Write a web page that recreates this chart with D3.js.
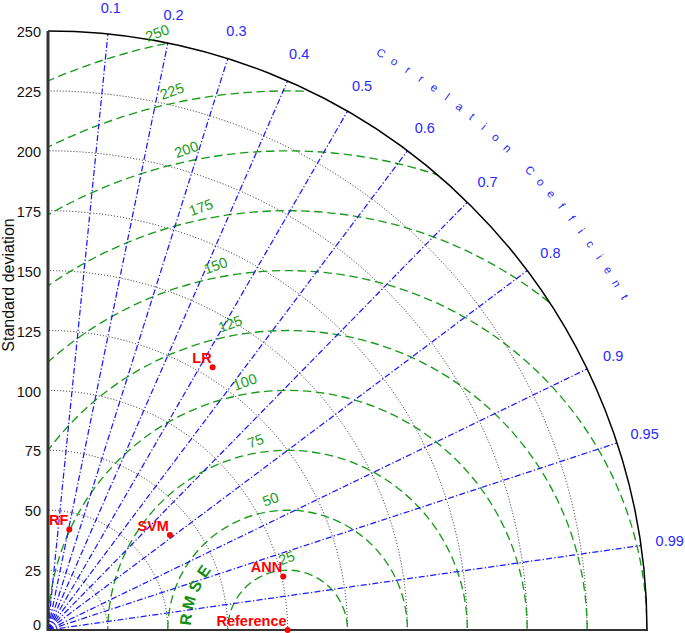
<!DOCTYPE html>
<html>
<head>
<meta charset="utf-8">
<script src="https://cdn.jsdelivr.net/npm/d3@7"></script>
<style>
  body { margin: 0; background: #fff; }
  text { font-family: "Liberation Sans", Arial, sans-serif; }
</style>
</head>
<body>
<div id="viz"></div>
<script>
// data
var stdTicks = [0, 25, 50, 75, 100, 125, 150, 175, 200, 225, 250];
var corrTicks = [0.1, 0.2, 0.3, 0.4, 0.5, 0.6, 0.7, 0.8, 0.9, 0.95, 0.99];
var rmsTicks = [25, 50, 75, 100, 125, 150, 175, 200, 225, 250];
var refStd = 100;
var models = ['Reference', 'ANN', 'SVM', 'RF', 'LR'];
var modelStd = [100, 100.7, 64.5, 42.9, 129.4];
var modelCorr = [1, 0.975, 0.789, 0.207, 0.531];

var W = 685, H = 633;
var ox = 48, oy = 630;
var maxStd = 250;

var svg = d3.select('#viz').append('svg')
  .attr('width', W)
  .attr('height', H);

var r = d3.scaleLinear().domain([0, maxStd]).range([0, 599]);
var y = d3.scaleLinear().domain([0, maxStd]).range([oy, oy - r(maxStd)]);
var R = r(maxStd);

var g = svg.append('g').attr('transform', `translate(${ox},${oy})`);

// clip to the quarter disc
g.append('clipPath').attr('id', 'quarter')
  .append('path')
  .attr('d', `M0,0L${R},0A${R},${R} 0 0 0 0,${-R}Z`);

var pol = (s, ang) => [r(s) * Math.cos(ang), -r(s) * Math.sin(ang)];

// std dev dotted arcs
g.selectAll('.stdarc').data(stdTicks.filter(d => d > 0 && d < maxStd)).join('path')
  .attr('class', 'stdarc')
  .attr('d', d => { var p = d3.path(); p.moveTo(r(d), 0); p.arc(0, 0, r(d), 0, -Math.PI / 2, true); return p.toString(); })
  .style('fill', 'none')
  .style('stroke', '#222')
  .style('stroke-width', 1)
  .style('stroke-dasharray', '1,2');

// RMS circles
var gr = g.append('g').attr('clip-path', 'url(#quarter)');
gr.selectAll('circle').data(rmsTicks).join('circle')
  .attr('cx', r(refStd))
  .attr('cy', 0)
  .attr('r', d => r(d))
  .style('fill', 'none')
  .style('stroke', '#1a9a1a')
  .style('stroke-width', 1.35)
  .style('stroke-dasharray', '8.5,4.5');

// correlation lines
g.selectAll('.corr').data(corrTicks).join('line')
  .attr('class', 'corr')
  .attr('x1', 0).attr('y1', 0)
  .attr('x2', d => pol(maxStd, Math.acos(d))[0])
  .attr('y2', d => pol(maxStd, Math.acos(d))[1])
  .style('stroke', '#1a1aff')
  .style('stroke-width', 1.25)
  .style('stroke-dasharray', '6,2.2,1.3,2.2');

// outer arc
var po = d3.path(); po.moveTo(R, 0); po.arc(0, 0, R, 0, -Math.PI / 2, true);
g.append('path').attr('d', po.toString())
  .style('fill', 'none').style('stroke', '#000').style('stroke-width', 1.5);

// axes lines
g.append('line').attr('x1', 0).attr('y1', 0).attr('x2', R + 1).attr('y2', 0)
  .style('stroke', '#333').style('stroke-width', 2.2);
g.append('line').attr('x1', 0).attr('y1', 1).attr('x2', 0).attr('y2', -R)
  .style('stroke', '#333').style('stroke-width', 3);

// y tick labels
var yAxis = d3.axisLeft(y).tickValues(stdTicks).tickSize(0).tickPadding(7);
var ya = svg.append('g').attr('transform', `translate(${ox},0)`).call(yAxis);
ya.select('.domain').remove();
ya.selectAll('text')
  .style('font-size', '14.5px')
  .style('fill', '#111')
  .attr('y', d => d === 0 ? -5 : 1);

svg.append('text')
  .attr('transform', 'translate(8,285) rotate(-90)')
  .attr('text-anchor', 'middle')
  .attr('dominant-baseline', 'central')
  .style('font-size', '16px')
  .style('fill', '#111')
  .text('Standard deviation');

// correlation tick labels
g.selectAll('.clab').data(corrTicks).join('text')
  .attr('class', 'clab')
  .attr('x', d => 628 * Math.cos(Math.acos(d)))
  .attr('y', d => Math.max(-628 * Math.sin(Math.acos(d)), -oy + 8))
  .attr('text-anchor', 'middle')
  .attr('dominant-baseline', 'central')
  .style('font-size', '14.5px')
  .style('fill', '#2a2aff')
  .text(d => d);

// correlation title along an arc
var ctitle = 'Correlation Coefficient'.split('');
var a0 = 60, a1 = 30;
g.selectAll('.ctit').data(ctitle).join('text')
  .attr('class', 'ctit')
  .attr('transform', (d, i) => {
    var a = a0 - i * (a0 - a1) / (ctitle.length - 1);
    var rad = a * Math.PI / 180;
    return `translate(${666 * Math.cos(rad)},${-666 * Math.sin(rad)}) rotate(${90 - a})`;
  })
  .attr('text-anchor', 'middle')
  .attr('dominant-baseline', 'central')
  .style('font-size', '11.5px')
  .style('fill', '#2a2aff')
  .text(d => d);

// RMS labels
g.selectAll('.rlab').data(rmsTicks).join('text')
  .attr('class', 'rlab')
  .attr('transform', d => {
    var rp = r(d);
    var hw = String(d).length * 3.9;
    var th = 104 * Math.PI / 180 - (hw + 6) / rp;
    var x = r(refStd) + (rp + 12) * Math.cos(th);
    var yy = -(rp + 12) * Math.sin(th);
    return `translate(${x},${yy}) rotate(-20)`;
  })
  .attr('text-anchor', 'middle')
  .attr('dominant-baseline', 'central')
  .style('font-size', '14.5px')
  .style('fill', '#1a9a1a')
  .text(d => d);

// RMSE title
var rtitle = ['R', 'M', 'S', 'E'];
var rAngles = [174, 164.5, 154.5, 145];
g.selectAll('.rtit').data(rtitle).join('text')
  .attr('class', 'rtit')
  .attr('transform', (d, i) => {
    var rad = rAngles[i] * Math.PI / 180;
    var x = r(refStd) + r(42.7) * Math.cos(rad);
    var yy = -r(42.7) * Math.sin(rad);
    return `translate(${x},${yy}) rotate(${-(rAngles[i] - 90)})`;
  })
  .attr('text-anchor', 'middle')
  .attr('dominant-baseline', 'central')
  .style('font-size', '16px')
  .style('font-weight', 'bold')
  .style('fill', '#118f11')
  .text(d => d);

// model points
var pts = models.map((m, i) => ({ name: m, p: pol(modelStd[i], Math.acos(modelCorr[i])) }));
g.selectAll('.pt').data(pts).join('circle')
  .attr('class', 'pt')
  .attr('cx', d => d.p[0])
  .attr('cy', d => d.p[1])
  .attr('r', 3)
  .style('fill', 'red');

g.selectAll('.plab').data(pts).join('text')
  .attr('class', 'plab')
  .attr('x', d => d.p[0] - 1)
  .attr('y', d => d.p[1] - 4)
  .attr('text-anchor', 'end')
  .style('font-size', '14.5px')
  .style('font-weight', 'bold')
  .style('fill', 'red')
  .text(d => d.name);
</script>
</body>
</html>
